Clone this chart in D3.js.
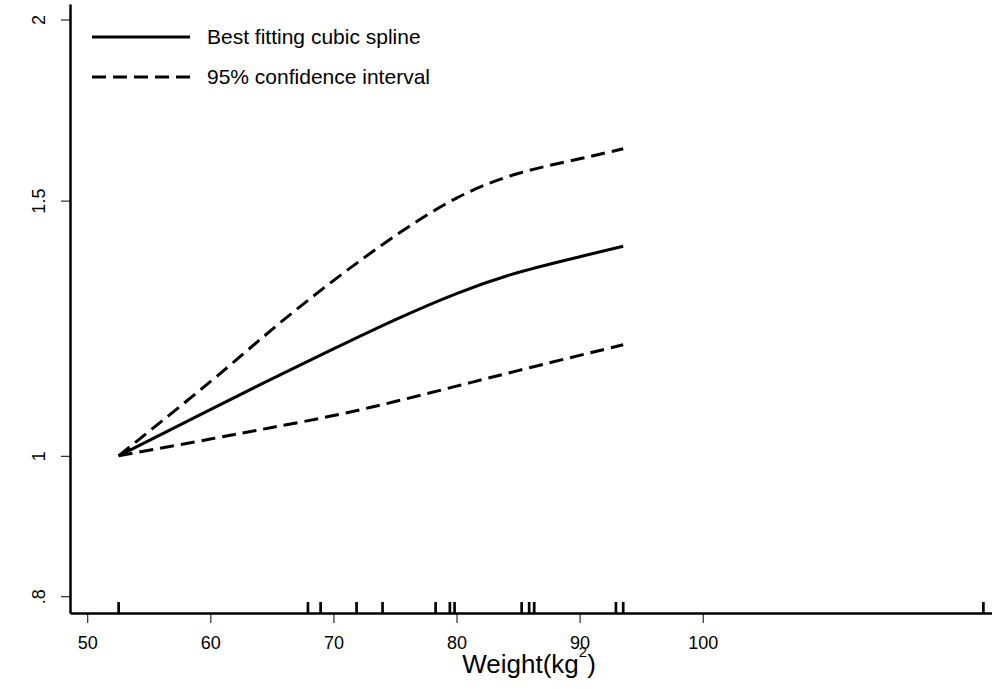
<!DOCTYPE html>
<html><head><meta charset="utf-8">
<script src="https://cdn.jsdelivr.net/npm/d3@7"></script>
<style>
body{margin:0;background:#fff;}
text{font-family:"Liberation Sans",Arial,sans-serif;fill:#000;}
</style></head>
<body><svg id="c" width="992" height="689"></svg>
<script>
const weight = [52.55, 60, 65, 70, 75, 80, 85, 90, 93.54];
const spline = [1.000, 1.076, 1.130, 1.185, 1.241, 1.294, 1.338, 1.372, 1.395];
const upperCI = [1.000, 1.125, 1.222, 1.321, 1.418, 1.506, 1.566, 1.603, 1.629];
const lowerCI = [1.000, 1.027, 1.046, 1.066, 1.090, 1.117, 1.145, 1.173, 1.193];
const rug = [52.55, 67.93, 68.96, 71.88, 73.99, 78.3, 79.46, 79.84, 85.29, 85.9, 86.31, 92.95, 93.54, 122.8];
const xTicks = [50, 60, 70, 80, 90, 100];
const yTicks = [0.8, 1, 1.5, 2];
const yTickLabels = [".8", "1", "1.5", "2"];
const legendLabels = ["Best fitting cubic spline", "95% confidence interval"];

const svg = d3.select("#c");
const x = d3.scaleLinear().domain([48.6, 123.5]).range([70, 992]);
const y = d3.scaleLog().domain([0.779, 2.05]).range([613, 4]);

// axes
const ya = svg.append("g").attr("transform","translate(70,0)")
  .call(d3.axisLeft(y).tickValues(yTicks).tickSize(9).tickSizeOuter(0)
    .tickFormat((d,i)=>yTickLabels[i]));
ya.select(".domain").attr("stroke","#000").attr("stroke-width",2.5);
ya.selectAll(".tick line").attr("stroke","#000").attr("stroke-width",1);
ya.selectAll(".tick text").attr("font-size",18).attr("text-anchor","middle")
  .attr("x",0).attr("dy",null).attr("dominant-baseline","middle")
  .attr("transform","translate(-30,0) rotate(-90)");

const xa = svg.append("g").attr("transform","translate(0,613)")
  .call(d3.axisBottom(x).tickValues(xTicks).tickSize(10).tickSizeOuter(0).tickFormat(d3.format("d")));
xa.select(".domain").attr("stroke","#000").attr("stroke-width",2.5);
xa.selectAll(".tick line").attr("stroke","#000").attr("stroke-width",1);
xa.selectAll(".tick text").attr("font-size",18).attr("y",23).attr("dy","0.71em");

// rug
svg.append("g").selectAll("line").data(rug).join("line")
  .attr("x1",d=>x(d)).attr("x2",d=>x(d)).attr("y1",613).attr("y2",602)
  .attr("stroke","#000").attr("stroke-width",2.7);

// curves
const line = d3.line().x((d,i)=>x(weight[i])).y(d=>y(d)).curve(d3.curveNatural);
const series = [
  {v: upperCI, dash:"14,7"},
  {v: lowerCI, dash:"14,7"},
  {v: spline, dash:null}
];
svg.append("g").selectAll("path").data(series).join("path")
  .attr("d",d=>line(d.v)).attr("fill","none").attr("stroke","#000")
  .attr("stroke-width",3).attr("stroke-dasharray",d=>d.dash);

// legend
const lg = svg.append("g");
legendLabels.forEach((t,i)=>{
  const yy = 37 + i*40;
  lg.append("line").attr("x1",92).attr("x2",190).attr("y1",yy).attr("y2",yy)
    .attr("stroke","#000").attr("stroke-width",3)
    .attr("stroke-dasharray", i===1 ? "14,7" : null);
  lg.append("text").attr("x",207).attr("y",yy).attr("dy","0.35em")
    .attr("font-size",21).text(t);
});

// x title
const tt = svg.append("text").attr("x",529).attr("y",673).attr("text-anchor","middle")
  .attr("font-size",26);
tt.append("tspan").text("Weight(kg");
tt.append("tspan").attr("font-size",15).attr("dy",-16).text("2");
tt.append("tspan").attr("dy",16).text(")");
</script></body></html>
